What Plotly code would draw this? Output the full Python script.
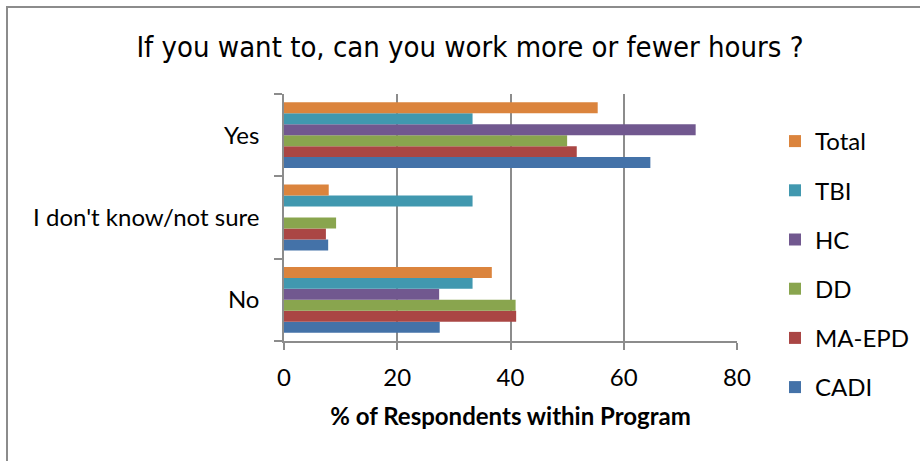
import plotly.graph_objects as go

# Response categories (listed bottom to top on the y axis)
answers = ["No", "I don't know/not sure", "Yes"]

# Program series, in drawing order (first trace sits lowest in each group)
programs = ["CADI", "MA-EPD", "DD", "HC", "TBI", "Total"]
colors = ["#4472A8", "#AA4644", "#89A54E", "#71588F", "#4198AF", "#DB843D"]

# % of respondents, per program, for [No, I don't know/not sure, Yes]
cadi = [27.5, 7.8, 64.7]
ma_epd = [41.0, 7.4, 51.7]
dd = [40.9, 9.2, 50.0]
hc = [27.4, 0.0, 72.7]
tbi = [33.3, 33.3, 33.3]
total = [36.7, 7.9, 55.4]

values = [cadi, ma_epd, dd, hc, tbi, total]

x_ticks = [0, 20, 40, 60, 80]

W, H = 920, 461
L, R, T, B = 284, 183, 94, 120
pw, ph = W - L - R, H - T - B

fig = go.Figure()
n = len(programs)
for i, (name, vals, col) in enumerate(zip(programs, values, colors)):
    fig.add_trace(go.Bar(
        y=answers, x=vals, name=name, orientation="h",
        marker=dict(color=col, line=dict(width=0)),
        legendgroup=name,
        legendrank=n - i,  # Total listed first, CADI last
    ))

fig.update_layout(
    width=W, height=H,
    margin=dict(l=L, r=R, t=T, b=B, pad=0, autoexpand=False),
    paper_bgcolor="white", plot_bgcolor="white",
    barmode="group", bargap=0.2, bargroupgap=0,
    font=dict(family="Lato, Carlito, sans-serif", size=24, color="#000"),
    title=dict(
        text="If you want to, can you work more or fewer hours ?",
        x=470 / W, xref="container", xanchor="center",
        y=1 - 47 / H, yref="container", yanchor="middle",
        font=dict(family="DejaVu Sans Condensed, DejaVu Sans, sans-serif", size=29),
    ),
    xaxis=dict(
        range=[0, 80], tickvals=x_ticks, ticktext=[str(v) for v in x_ticks],
        showgrid=True, gridcolor="#8c8c8c", gridwidth=1.5,
        showline=True, linecolor="#8c8c8c", linewidth=1.5,
        ticks="outside", ticklen=7, tickcolor="#8c8c8c", tickwidth=1.5,
        zeroline=False, fixedrange=True, ticklabelstandoff=7,
        tickfont=dict(size=24),
        title=dict(text="<b>% of Respondents within Program</b>", font=dict(size=24), standoff=19),
    ),
    yaxis=dict(
        categoryorder="array", categoryarray=answers,
        showline=True, linecolor="#8c8c8c", linewidth=1.5,
        ticks="outside", tickson="boundaries", ticklen=8,
        tickcolor="#8c8c8c", tickwidth=1.5,
        showgrid=False, ticklabelstandoff=18,
        tickfont=dict(size=24),
    ),
    legend=dict(
        traceorder="grouped",
        x=(775 - L) / pw, xanchor="left",
        y=1 - (119 - T) / ph, yanchor="top",
        font=dict(size=24),
        tracegroupgap=15,
        maxheight=400,
        bgcolor="rgba(0,0,0,0)",
    ),
    showlegend=True,
)

# Outer chart frame
fig.add_shape(
    type="rect", xref="paper", yref="paper",
    x0=(7 - L) / pw, x1=(W + 5 - L) / pw,
    y0=1 - (H + 5 - T) / ph, y1=1 + (T - 7) / ph,
    line=dict(color="#8c8c8c", width=2), fillcolor="rgba(0,0,0,0)", layer="below",
)

fig.write_html("out.html")
